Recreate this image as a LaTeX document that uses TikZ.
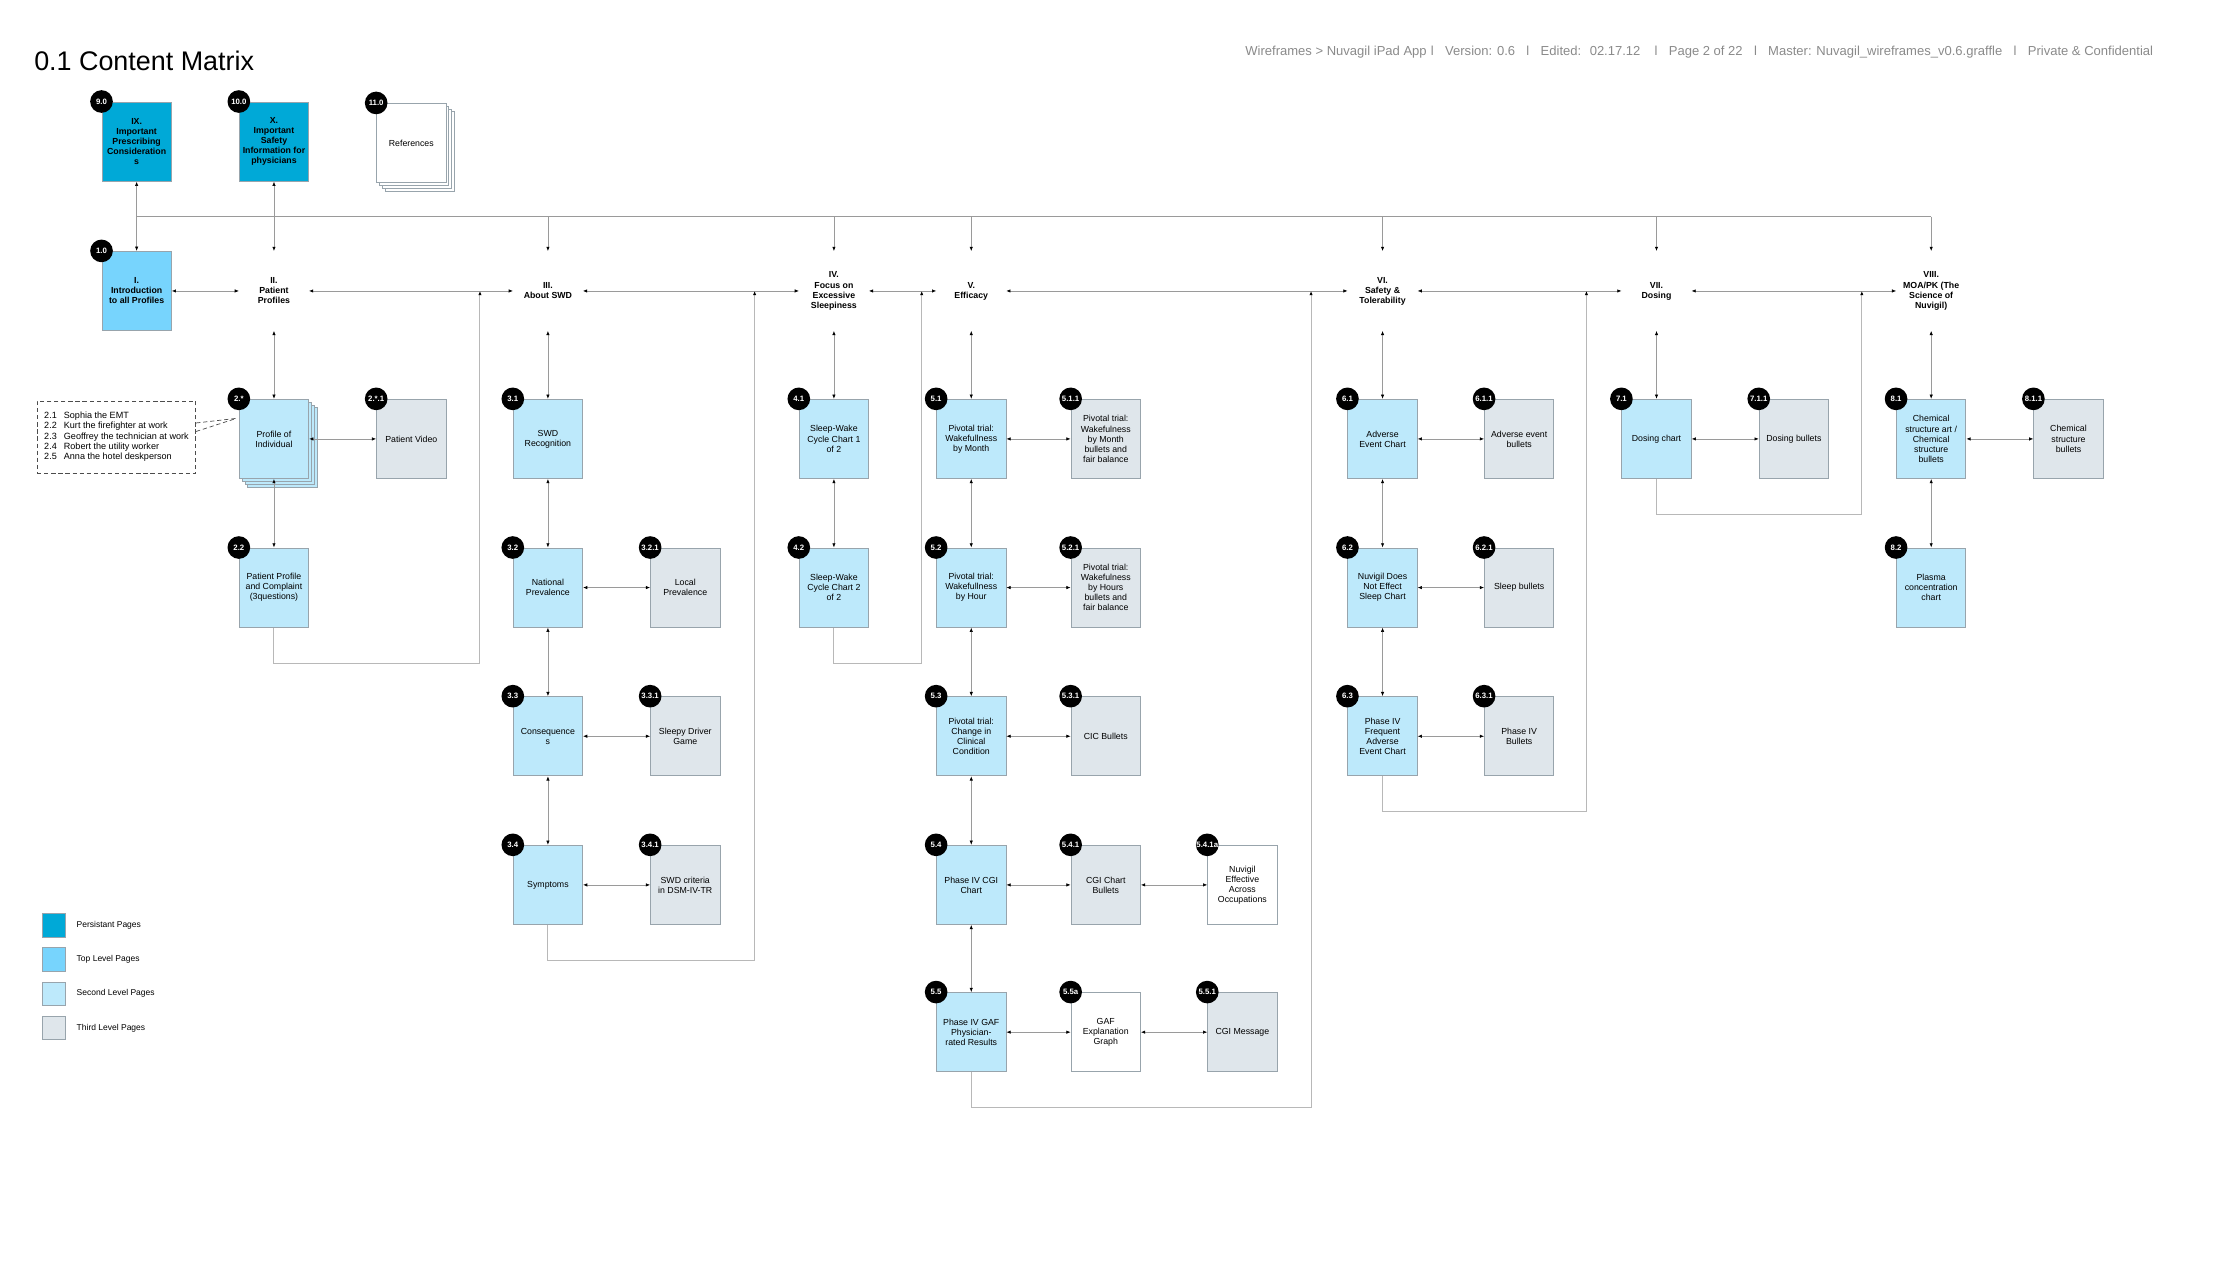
\documentclass[tikz,border=0pt]{standalone}
\usepackage{fontspec}
\setmainfont{Liberation Sans}
\usetikzlibrary{arrows.meta,shadows}

\definecolor{persistblue}{HTML}{00A9D7}
\definecolor{topblue}{HTML}{77D4FD}
\definecolor{secondblue}{HTML}{BDE9FB}
\definecolor{thirdgray}{HTML}{DFE6EB}
\definecolor{edgegray}{HTML}{98A4AC}
\definecolor{linkgray}{HTML}{9A9A9A}
\definecolor{backgray}{HTML}{B8B8B8}
\definecolor{headgray}{HTML}{8A8A8A}

\begin{document}
\begin{tikzpicture}[x=1pt, y=-1pt,
    page/.style={draw=edgegray, line width=0.6pt, minimum width=49pt, minimum height=56pt,
        inner sep=1pt, align=center, font=\fontsize{6.2}{7.1}\selectfont},
    persistpage/.style={page, fill=persistblue, font=\fontsize{6.2}{7.1}\selectfont\bfseries},
    toppage/.style={page, fill=topblue, font=\fontsize{6.2}{7.1}\selectfont\bfseries},
    secondpage/.style={page, fill=secondblue},
    thirdpage/.style={page, fill=thirdgray},
    plainpage/.style={page, fill=white},
    section/.style={minimum width=49pt, minimum height=56pt, inner sep=1pt, align=center,
        font=\fontsize{6.2}{7.1}\selectfont\bfseries},
    stack/.style={
        copy shadow={shadow xshift=6pt, shadow yshift=-6pt, fill=#1, draw=edgegray, line width=0.6pt},
        copy shadow={shadow xshift=4pt, shadow yshift=-4pt, fill=#1, draw=edgegray, line width=0.6pt},
        copy shadow={shadow xshift=2pt, shadow yshift=-2pt, fill=#1, draw=edgegray, line width=0.6pt}},
    badge/.style={circle, fill=black, text=white, minimum size=16pt, inner sep=0pt,
        font=\fontsize{5.5}{5.5}\selectfont\bfseries},
    link/.style={draw=linkgray, line width=0.45pt, >={Latex[length=3pt, width=2.4pt, color=black]}, <->},
    down/.style={draw=linkgray, line width=0.45pt, >={Latex[length=3pt, width=2.4pt, color=black]}, ->},
    back/.style={draw=backgray, line width=0.7pt, >={Latex[length=3pt, width=2.4pt, color=black]}, ->},
    listbox/.style={draw=black!70, line width=0.5pt, dash pattern=on 3pt off 2pt, minimum width=112pt,
        minimum height=51pt, inner sep=3pt, font=\fontsize{6.4}{7.3}\selectfont},
    legendkey/.style={draw=edgegray, line width=0.6pt, minimum size=16.5pt, inner sep=0pt}]

    % Fix the page size
    \useasboundingbox (0,0) rectangle (1568,892);

    % Title and page header
    \node[anchor=west, inner sep=0pt, font=\fontsize{19}{19}\selectfont] (title) at (24,43) {0.1 Content Matrix};
    \node[anchor=east, inner sep=0pt, text=headgray, font=\fontsize{9.2}{9.2}\selectfont] (header) at (1521,37)
        {Wireframes > Nuvagil iPad App\hspace{3pt}l\hspace{8pt}Version: 0.6\hspace{8pt}l\hspace{8pt}Edited:\hspace{6pt}02.17.12\hspace{10pt}l\hspace{8pt}Page 2 of 22\hspace{8pt}l\hspace{8pt}Master: Nuvagil\_wireframes\_v0.6.graffle\hspace{8pt}l\hspace{8pt}Private \& Confidential};

    % Persistent pages
    \node[persistpage] (p90) at (96.5,100) {IX.\\Important\\Prescribing\\Consideration\\s};
    \node[persistpage] (p100) at (193.5,100) {X.\\Important\\Safety\\Information for\\physicians};
    \node[plainpage, stack=white] (p110) at (290.5,101) {References};

    % Top level pages
    \node[toppage] (p10) at (96.5,205.5) {I.\\Introduction\\to all Profiles};
    \node[section] (s2) at (193.5,205.5) {II.\\Patient\\Profiles};
    \node[section] (s3) at (387,205.5) {III.\\About SWD};
    \node[section] (s4) at (589,205.5) {IV.\\Focus on\\Excessive\\Sleepiness};
    \node[section] (s5) at (686,205.5) {V.\\Efficacy};
    \node[section] (s6) at (976.5,205.5) {VI.\\Safety \&\\Tolerability};
    \node[section] (s7) at (1170,205.5) {VII.\\Dosing};
    \node[section] (s8) at (1364,205.5) {VIII.\\MOA/PK (The\\Science of\\Nuvigil)};

    % II. Patient Profiles
    \node[secondpage, stack=secondblue] (p2s) at (193.5,310) {Profile of\\Individual};
    \node[thirdpage] (p2s1) at (290.5,310) {Patient Video};
    \node[secondpage] (p22) at (193.5,415) {Patient Profile\\and Complaint\\(3questions)};
    \node[listbox, anchor=north west] (plist) at (26,283) {\begin{tabular}{@{}l@{\hspace{5pt}}l@{}}
        2.1 & Sophia the EMT\\ 2.2 & Kurt the firefighter at work\\ 2.3 & Geoffrey the technician at work\\
        2.4 & Robert the utility worker\\ 2.5 & Anna the hotel deskperson\end{tabular}};

    % III. About SWD
    \node[secondpage] (p31) at (387,310) {SWD\\Recognition};
    \node[secondpage] (p32) at (387,415) {National\\Prevalence};
    \node[thirdpage] (p321) at (484,415) {Local\\Prevalence};
    \node[secondpage] (p33) at (387,520) {Consequence\\s};
    \node[thirdpage] (p331) at (484,520) {Sleepy Driver\\Game};
    \node[secondpage] (p34) at (387,625) {Symptoms};
    \node[thirdpage] (p341) at (484,625) {SWD criteria\\in DSM-IV-TR};

    % IV. Focus on Excessive Sleepiness
    \node[secondpage] (p41) at (589,310) {Sleep-Wake\\Cycle Chart 1\\of 2};
    \node[secondpage] (p42) at (589,415) {Sleep-Wake\\Cycle Chart 2\\of 2};

    % V. Efficacy
    \node[secondpage] (p51) at (686,310) {Pivotal trial:\\Wakefullness\\by Month};
    \node[thirdpage] (p511) at (781,310) {Pivotal trial:\\Wakefulness\\by Month\\bullets and\\fair balance};
    \node[secondpage] (p52) at (686,415) {Pivotal trial:\\Wakefullness\\by Hour};
    \node[thirdpage] (p521) at (781,415) {Pivotal trial:\\Wakefulness\\by Hours\\bullets and\\fair balance};
    \node[secondpage] (p53) at (686,520) {Pivotal trial:\\Change in\\Clinical\\Condition};
    \node[thirdpage] (p531) at (781,520) {CIC Bullets};
    \node[secondpage] (p54) at (686,625) {Phase IV CGI\\Chart};
    \node[thirdpage] (p541) at (781,625) {CGI Chart\\Bullets};
    \node[plainpage] (p541a) at (877.5,625) {Nuvigil\\Effective\\Across\\Occupations};
    \node[secondpage] (p55) at (686,729) {Phase IV GAF\\Physician-\\rated Results};
    \node[plainpage] (p55a) at (781,729) {GAF\\Explanation\\Graph};
    \node[thirdpage] (p551) at (877.5,729) {CGI Message};

    % VI. Safety & Tolerability
    \node[secondpage] (p61) at (976.5,310) {Adverse\\Event Chart};
    \node[thirdpage] (p611) at (1073,310) {Adverse event\\bullets};
    \node[secondpage] (p62) at (976.5,415) {Nuvigil Does\\Not Effect\\Sleep Chart};
    \node[thirdpage] (p621) at (1073,415) {Sleep bullets};
    \node[secondpage] (p63) at (976.5,520) {Phase IV\\Frequent\\Adverse\\Event Chart};
    \node[thirdpage] (p631) at (1073,520) {Phase IV\\Bullets};

    % VII. Dosing
    \node[secondpage] (p71) at (1170,310) {Dosing chart};
    \node[thirdpage] (p711) at (1267,310) {Dosing bullets};

    % VIII. MOA/PK
    \node[secondpage] (p81) at (1364,310) {Chemical\\structure art /\\Chemical\\structure\\bullets};
    \node[thirdpage] (p811) at (1461,310) {Chemical\\structure\\bullets};
    \node[secondpage] (p82) at (1364,415) {Plasma\\concentration\\chart};

    % Page numbers on the corners
    \foreach \n/\t in {p90/9.0, p100/10.0, p110/11.0, p10/1.0, p2s/2.*, p2s1/2.*.1, p22/2.2,
        p31/3.1, p32/3.2, p321/3.2.1, p33/3.3, p331/3.3.1, p34/3.4, p341/3.4.1, p41/4.1, p42/4.2,
        p51/5.1, p511/5.1.1, p52/5.2, p521/5.2.1, p53/5.3, p531/5.3.1, p54/5.4, p541/5.4.1,
        p541a/5.4.1a, p55/5.5, p55a/5.5a, p551/5.5.1, p61/6.1, p611/6.1.1, p62/6.2, p621/6.2.1,
        p63/6.3, p631/6.3.1, p71/7.1, p711/7.1.1, p81/8.1, p811/8.1.1, p82/8.2}
        \node[badge] (b\n) at (\n.north west) {\t};

    % Bus from the persistent pages to every section
    \coordinate (busW) at (96.5,153);
    \coordinate (busE) at (1364,153);
    \draw[draw=linkgray, line width=0.45pt] (busW) -- (busE);
    \draw[link] (p90) -- (p10);
    \draw[link] (p100) -- (s2);
    \foreach \s in {s3,s4,s5,s6,s7,s8}
        \draw[down] (\s |- busW) -- (\s);

    % Links along the top level
    \foreach \a/\b in {p10/s2, s2/s3, s3/s4, s4/s5, s5/s6, s6/s7, s7/s8}
        \draw[link] (\a) -- (\b);

    % Links down each section
    \foreach \a/\b in {s2/p2s, p2s/p22, s3/p31, p31/p32, p32/p33, p33/p34, s4/p41, p41/p42,
        s5/p51, p51/p52, p52/p53, p53/p54, p54/p55, s6/p61, p61/p62, p62/p63, s7/p71, s8/p81, p81/p82}
        \draw[link] (\a) -- (\b);

    % Links out to the third level
    \foreach \a/\b in {p2s/p2s1, p32/p321, p33/p331, p34/p341, p51/p511, p52/p521, p53/p531,
        p54/p541, p541/p541a, p55/p55a, p55a/p551, p61/p611, p62/p621, p63/p631, p71/p711, p81/p811}
        \draw[link] (\a) -- (\b);

    % Return paths from the last page of a section to the next section
    \foreach \n/\x in {2/339, 3/533, 4/651, 5/926, 6/1120.5, 7/1315}
        \coordinate (ret\n) at (\x,205.5);
    \draw[back] (p22.south) -- ++(0,25) -| (ret2);
    \draw[back] (p34.south) -- ++(0,25) -| (ret3);
    \draw[back] (p42.south) -- ++(0,25) -| (ret4);
    \draw[back] (p55.south) -- ++(0,25) -| (ret5);
    \draw[back] (p63.south) -- ++(0,25) -| (ret6);
    \draw[back] (p71.south) -- ++(0,25) -| (ret7);

    % Callout from the list of profiles
    \coordinate (listtip) at (167,295.5);
    \draw[draw=black!70, line width=0.5pt, dash pattern=on 3pt off 2pt] ([yshift=10pt]plist.east) -- (listtip);
    \draw[draw=black!70, line width=0.5pt, dash pattern=on 3pt off 2pt] ([yshift=4pt]plist.east) -- (listtip);

    % Legend
    \foreach \c/\t [count=\i] in {persistblue/Persistant Pages, topblue/Top Level Pages,
        secondblue/Second Level Pages, thirdgray/Third Level Pages} {
        \node[legendkey, fill=\c] (key\i) at (38,{653.5+24.2*(\i-1)}) {};
        \node[anchor=west, inner sep=0pt, font=\fontsize{6}{6}\selectfont] (keytext\i) at (54,{653.5+24.2*(\i-1)}) {\t};
    }

\end{tikzpicture}
\end{document}
